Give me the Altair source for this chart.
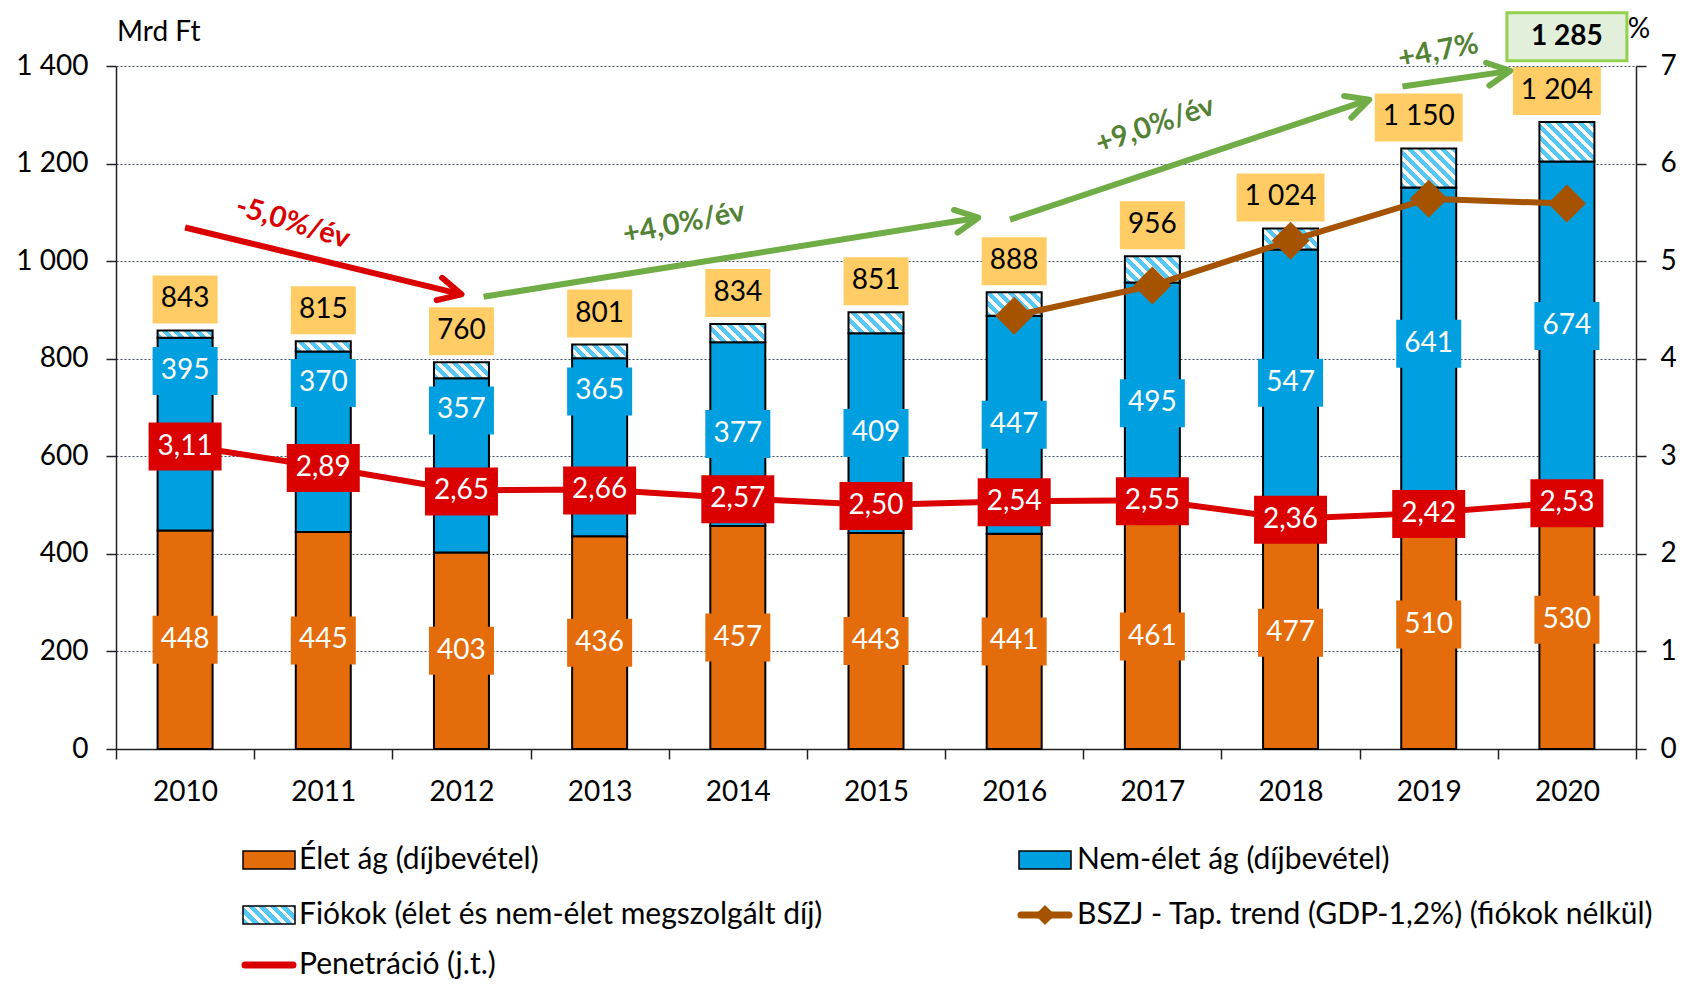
import math
import altair as alt
import pandas as pd

# ---------------- data ----------------
years = [2010, 2011, 2012, 2013, 2014, 2015, 2016, 2017, 2018, 2019, 2020]
life = [448, 445, 403, 436, 457, 443, 441, 461, 477, 510, 530]
nonlife = [395, 370, 357, 365, 377, 409, 447, 495, 547, 641, 674]
totals = [843, 815, 760, 801, 834, 851, 888, 956, 1024, 1150, 1204]
branches = [15, 21, 33, 28, 37, 43, 48, 54, 43, 80, 81]
total_with_branches_2020 = 1285
bszj_years = [2016, 2017, 2018, 2019, 2020]
bszj = [888, 950, 1042, 1128, 1118]
penetration = [3.11, 2.89, 2.65, 2.66, 2.57, 2.50, 2.54, 2.55, 2.36, 2.42, 2.53]

# label anchors that were moved by hand in the original (Mrd Ft); None = segment middle
nonlife_label_at = [775, 750, 694, 733, None, None, None, None, None, None, None]

# growth annotations, in (year, Mrd Ft)
arrow_texts = ["-5,0%/év", "+4,0%/év", "+9,0%/év", "+4,7%"]
arrow_from_year = [2010.0, 2012.16, 2015.97, 2018.81]
arrow_from_val = [1069, 927, 1085, 1358]
arrow_to_year = [2012.0, 2015.74, 2018.57, 2019.59]
arrow_to_val = [932, 1089, 1331, 1390]
arrow_text_year = [2010.78, 2013.61, 2017.02, 2019.07]
arrow_text_val = [1079, 1078, 1279, 1430]
arrow_text_angle = [17, 349, 341, 349]
box_2020_val = 1460

legend_labels = ["Élet ág (díjbevétel)", "Nem-élet ág (díjbevétel)",
                 "Fiókok (élet és nem-élet megszolgált díj)",
                 "BSZJ - Tap. trend (GDP-1,2%) (fiókok nélkül)", "Penetráció (j.t.)"]

# ---------------- styling ----------------
W, H = 1520, 683
Y_MAX, P_MAX = 1400, 7
BAR_W = 55
FONT = "Lato"
FS = 28
LFS = 30
ORANGE = "#E46C0A"
BLUE = "#009FDF"
HATCH = "#55C8F7"
YELLOW = "#FFCC66"
RED = "#DA0000"
BROWN = "#A65300"
GREEN = "#70AD47"
DGREEN = "#548235"


def fmt_int(v):
    return f"{int(v):,}".replace(",", " ")


def px_x(yr):
    return (yr - 2009.5) * W / 11


def px_y(v):
    return H - v * H / Y_MAX


def hatch(w, h, period=11.0, frac=0.55):
    k = (w + h) / (w * w + h * h)
    span = w + h
    stops = []
    j = 0
    while True:
        a = j * period / span
        b = (j * period + period * frac) / span
        c = (j + 1) * period / span
        for off, col in ((a, HATCH), (b, HATCH), (b, "white"), (c, "white")):
            stops.append(alt.GradientStop(offset=round(min(off, 1.0), 4), color=col))
        if c >= 1:
            break
        j += 1
    return alt.LinearGradient(gradient="linear", stops=stops, x1=0, y1=1,
                              x2=round(w * k, 4), y2=round(1 - h * k, 4))


df = pd.DataFrame({"year": years, "life": life, "nonlife": nonlife, "total": totals,
                   "branch": branches, "pen": penetration})
df["zero"] = 0
df["nl_top"] = df["life"] + df["nonlife"]
df["all_top"] = df["nl_top"] + df["branch"]
df["life_mid"] = df["life"] / 2
df["nl_mid"] = [a if a is not None else l + n / 2
                for a, l, n in zip(nonlife_label_at, life, nonlife)]
df["total_txt"] = df["total"].map(fmt_int)
df["wide"] = df["total"] >= 1000
df["pen_txt"] = df["pen"].map(lambda v: f"{v:.2f}".replace(".", ","))

df_b = pd.DataFrame({"year": bszj_years, "v": bszj})

ann = pd.DataFrame({"x1": arrow_from_year, "y1": arrow_from_val,
                    "x2": arrow_to_year, "y2": arrow_to_val,
                    "tx": arrow_text_year, "ty": arrow_text_val,
                    "txt": arrow_texts, "tang": arrow_text_angle})
ann["ang"] = [(math.degrees(math.atan2(px_y(b2) - px_y(b1), px_x(a2) - px_x(a1))) + 360) % 360
              for a1, b1, a2, b2 in zip(ann.x1, ann.y1, ann.x2, ann.y2)]
ann["col"] = [RED, GREEN, GREEN, GREEN]
ann["tcol"] = [RED, DGREEN, DGREEN, DGREEN]

box = pd.DataFrame({"year": [2020], "v": [box_2020_val], "txt": [fmt_int(total_with_branches_2020)]})

# ---------------- scales / axes ----------------
x_scale = alt.Scale(domain=[2009.5, 2020.5], nice=False, zero=False)
y_scale = alt.Scale(domain=[0, Y_MAX], nice=False)
p_scale = alt.Scale(domain=[0, P_MAX], nice=False)

axis_common = dict(tickSize=10, tickColor="#222222", tickWidth=1.5, domainColor="#222222",
                   domainWidth=1.5, labelFont=FONT, labelFontSize=FS, labelColor="black",
                   title=None, labelOverlap=False)

x_axis = alt.Axis(values=[2009.5 + i for i in range(12)],
                  labelExpr="datum.value < 2020 ? format(datum.value + 0.5, 'd') : ''",
                  labelOffset=W / 22, labelPadding=19, grid=False, labelFlush=False,
                  labelBound=False, **axis_common)
y_axis = alt.Axis(values=list(range(0, Y_MAX + 1, 200)),
                  labelExpr="replace(format(datum.value, ','), ',', ' ')",
                  labelPadding=18, grid=True, gridDash=[2, 2], gridColor="#3E4A63",
                  gridWidth=1, **axis_common)
p_axis = alt.Axis(values=list(range(0, P_MAX + 1)), orient="right", labelPadding=14,
                  grid=False, labelAlign="left", **axis_common)


def X(f="year"):
    return alt.X(f"{f}:Q", scale=x_scale, axis=x_axis)


def Y(f):
    return alt.Y(f"{f}:Q", scale=y_scale, axis=y_axis)


def P(f):
    return alt.Y(f"{f}:Q", scale=p_scale, axis=p_axis)


base = alt.Chart(df)
bar_kw = dict(stroke="black", strokeWidth=2, xOffset=-BAR_W / 2, x2Offset=BAR_W / 2)

life_bars = base.mark_rect(fill=ORANGE, **bar_kw).encode(
    x=X(), x2="year", y=Y("zero"), y2="life")
nonlife_bars = base.mark_rect(fill=BLUE, **bar_kw).encode(
    x=X(), x2="year", y=Y("life"), y2="nl_top")

branch_bars = []
for yr, b in zip(years, branches):
    branch_bars.append(
        base.transform_filter(alt.datum.year == yr)
        .mark_rect(fill=hatch(BAR_W, b * H / Y_MAX), **bar_kw)
        .encode(x=X(), x2="year", y=Y("nl_top"), y2="all_top"))

bszj_line = alt.Chart(df_b).mark_line(color=BROWN, strokeWidth=6).encode(x=X(), y=Y("v"))
bszj_pts = alt.Chart(df_b).mark_point(shape="diamond", filled=True, size=1444, color=BROWN,
                                      opacity=1).encode(x=X(), y=Y("v"))


def label_layers(data, field, fill, tcolor, w, text, dy=0, dx=0, h=48, weight="normal",
                 stroke=None, ych=Y):
    rk = dict(fill=fill, xOffset=-w / 2 + dx, x2Offset=w / 2 + dx,
              yOffset=-h / 2 + dy, y2Offset=h / 2 + dy)
    if stroke:
        rk.update(stroke=stroke, strokeWidth=3)
    r = data.mark_rect(**rk).encode(x=X(), x2="year", y=ych(field), y2=field)
    t = data.mark_text(font=FONT, fontSize=FS, color=tcolor, fontWeight=weight,
                       baseline="middle", align="center", dy=dy, dx=dx).encode(
        x=X(), y=ych(field), text=f"{text}:N")
    return [r, t]


life_lbl = label_layers(base, "life_mid", ORANGE, "white", 65, "life")
nl_lbl = label_layers(base, "nl_mid", BLUE, "white", 65, "nonlife")
tot_lbl = (label_layers(base.transform_filter("!datum.wide"), "all_top", YELLOW, "black", 65,
                        "total_txt", dy=-31)
           + label_layers(base.transform_filter("datum.wide"), "all_top", YELLOW, "black", 88,
                          "total_txt", dy=-31, dx=-10))
box_lbl = label_layers(alt.Chart(box), "v", "#E2EFDA", "black", 120, "txt", weight="bold",
                       stroke="#92D050")

arrows = alt.Chart(ann).mark_rule(strokeWidth=6, strokeCap="butt").encode(
    x=X("x1"), x2="x2", y=Y("y1"), y2="y2", color=alt.Color("col:N", scale=None))
heads = alt.Chart(ann).mark_point(shape="M-0.89,-0.45L0,0L-0.89,0.45", filled=False,
                                  strokeWidth=6, size=2600, opacity=1, strokeJoin="round",
                                  strokeCap="round").encode(
    x=X("x2"), y=Y("y2"), angle=alt.Angle("ang:Q", scale=None),
    color=alt.Color("col:N", scale=None))
ann_text = alt.Chart(ann).mark_text(font=FONT, fontSize=29, fontWeight="bold",
                                    baseline="middle", align="center").encode(
    x=X("tx"), y=Y("ty"), text="txt:N", angle=alt.Angle("tang:Q", scale=None),
    color=alt.Color("tcol:N", scale=None))

one = alt.Chart(pd.DataFrame({"d": [0]}))


def txt(x, y, s, align="left", size=FS):
    return one.mark_text(font=FONT, fontSize=size, align=align, baseline="middle",
                         color="black").encode(x=alt.value(x), y=alt.value(y), text=alt.value(s))


def swatch(x, y, fill):
    return one.mark_rect(fill=fill, stroke="black", strokeWidth=1.5).encode(
        x=alt.value(x), x2=alt.value(x + 52), y=alt.value(y - 9), y2=alt.value(y + 9))


def lswatch(x, y, color, diamond=False):
    out = [one.mark_rule(color=color, strokeWidth=7, strokeCap="round").encode(
        x=alt.value(x + 2), x2=alt.value(x + 50), y=alt.value(y))]
    if diamond:
        out.append(one.mark_point(shape="diamond", filled=True, size=400, color=color,
                                  opacity=1).encode(x=alt.value(x + 26), y=alt.value(y)))
    return out


R1, R2, R3 = H + 111, H + 166, H + 216
C1, C2 = 127, 903
legend = [swatch(C1, R1, ORANGE), txt(C1 + 56, R1, legend_labels[0], size=LFS),
          swatch(C2, R1, BLUE), txt(C2 + 58, R1, legend_labels[1], size=LFS),
          swatch(C1, R2, hatch(52, 18)), txt(C1 + 56, R2, legend_labels[2], size=LFS),
          *lswatch(C2, R2, BROWN, True), txt(C2 + 58, R2, legend_labels[3], size=LFS),
          *lswatch(C1, R3, RED), txt(C1 + 56, R3, legend_labels[4], size=LFS),
          txt(1, -33, "Mrd Ft"), txt(1523, -36, "%", align="center")]

left = alt.layer(life_bars, nonlife_bars, *branch_bars, bszj_line, bszj_pts,
                 *life_lbl, *nl_lbl, *tot_lbl, *box_lbl, arrows, heads, ann_text, *legend)

pen_base = alt.Chart(df)
pen_line = pen_base.mark_line(color=RED, strokeWidth=6).encode(x=X(), y=P("pen"))
pen_box = pen_base.mark_rect(fill=RED, xOffset=-36.5, x2Offset=36.5, yOffset=-23,
                             y2Offset=25).encode(x=X(), x2="year", y=P("pen"), y2="pen")
pen_txt = pen_base.mark_text(font=FONT, fontSize=FS, color="white", baseline="middle",
                             align="center", dy=1).encode(x=X(), y=P("pen"), text="pen_txt:N")
right = alt.layer(pen_line, pen_box, pen_txt)

chart = (alt.layer(left, right)
         .resolve_scale(y="independent")
         .properties(width=W, height=H, background="white",
                     padding={"left": 108, "top": 58, "right": 42, "bottom": 230},
                     autosize=alt.AutoSizeParams(type="none"))
         .configure_view(stroke=None))

chart.save("out.html", embed_options={"renderer": "svg", "actions": False})
